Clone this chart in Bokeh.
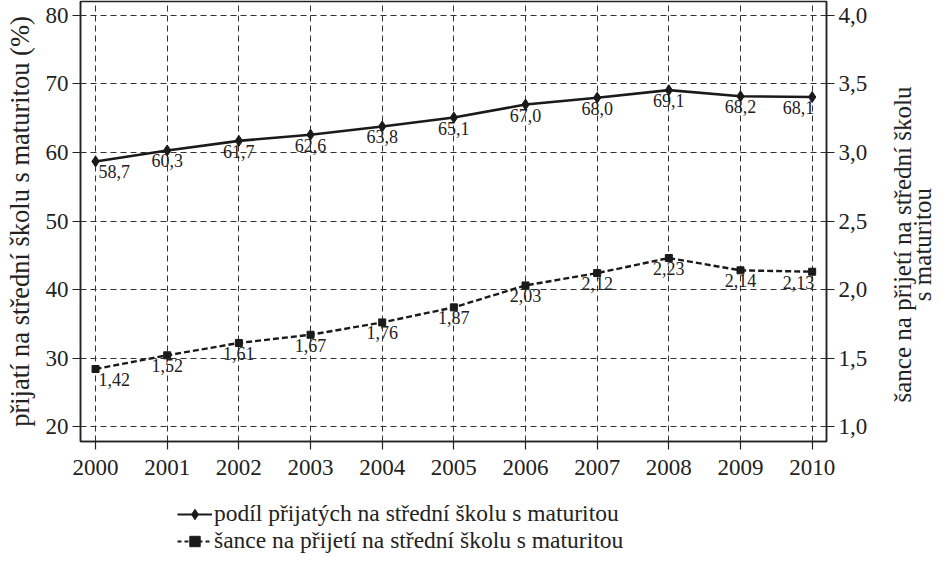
import math
from bokeh.plotting import figure
from bokeh.layouts import column, row
from bokeh.models import (ColumnDataSource, Range1d, LinearAxis, FixedTicker,
                          CustomJSTickFormatter, Legend, LegendItem, Label)
from bokeh.core.properties import value
from bokeh.embed import file_html
from bokeh.resources import INLINE

years = [2000, 2001, 2002, 2003, 2004, 2005, 2006, 2007, 2008, 2009, 2010]
share = [58.7, 60.3, 61.7, 62.6, 63.8, 65.1, 67.0, 68.0, 69.1, 68.2, 68.1]
chance = [1.42, 1.52, 1.61, 1.67, 1.76, 1.87, 2.03, 2.12, 2.23, 2.14, 2.13]
left_ticks = [20, 30, 40, 50, 60, 70, 80]
right_ticks = [1.0, 1.5, 2.0, 2.5, 3.0, 3.5, 4.0]

name1 = "podíl přijatých na střední školu s maturitou"
name2 = "šance na přijetí na střední školu s maturitou"
left_title = "přijatí na střední školu s maturitou (%)"
right_title1 = "šance na přijetí na střední školu"
right_title2 = "s maturitou"

FONT = "Liberation Serif"
INK = "#222222"

def fmt(v, d):
    return f"{v:.{d}f}".replace(".", ",")

n = len(years)
align = ["left"] + ["center"] * (n - 2) + ["right"]
xoff = [3] + [0] * (n - 2) + [2]

src1 = ColumnDataSource(dict(x=years, y=share, label=[fmt(v, 1) for v in share],
                             align=align, xoff=xoff))
src2 = ColumnDataSource(dict(x=years, y=chance, label=[fmt(v, 2) for v in chance],
                             align=align, xoff=xoff))

# ---------------- main chart ----------------
MW, MH = 876, 487
p = figure(width=MW, height=MH, output_backend="svg", toolbar_location=None,
           x_range=Range1d(1999.79, 2010.2), y_range=Range1d(17.82, 82.04),
           min_border_left=80, min_border_right=50, min_border_top=1,
           min_border_bottom=46)
p.extra_y_ranges = {"right": Range1d(0.891, 4.102)}
p.background_fill_color = "white"
p.border_fill_color = "white"
p.outline_line_color = INK
p.outline_line_width = 1.5

for g in (p.xgrid, p.ygrid):
    g.grid_line_color = "#333333"
    g.grid_line_dash = "6 4"
    g.grid_line_width = 1
p.xgrid.ticker = FixedTicker(ticks=years)
p.ygrid.ticker = FixedTicker(ticks=left_ticks)

def style_axis(ax):
    ax.axis_line_color = INK
    ax.axis_line_width = 1.5
    ax.major_tick_line_color = INK
    ax.major_tick_line_width = 1.2
    ax.major_tick_out = 8
    ax.major_tick_in = 0
    ax.minor_tick_line_color = None
    ax.major_label_text_font = FONT
    ax.major_label_text_font_size = "23px"
    ax.major_label_text_color = INK
    ax.axis_label_text_font = FONT
    ax.axis_label_text_font_size = "26.5px"
    ax.axis_label_text_font_style = "normal"
    ax.axis_label_text_color = INK

p.xaxis.ticker = FixedTicker(ticks=years)
style_axis(p.xaxis[0])
p.xaxis.major_label_standoff = 10

p.yaxis.ticker = FixedTicker(ticks=left_ticks)
style_axis(p.yaxis[0])
p.yaxis.axis_label = left_title
p.yaxis.axis_label_standoff = 8
p.yaxis.major_label_standoff = 4

rax = LinearAxis(y_range_name="right", ticker=FixedTicker(ticks=right_ticks),
                 formatter=CustomJSTickFormatter(code="return tick.toFixed(1).replace('.', ',');"))
style_axis(rax)
rax.major_label_standoff = 4
p.add_layout(rax, "right")

# series 1
p.line("x", "y", source=src1, line_color="#1a1a1a", line_width=2.6)
p.scatter("x", "y", source=src1, marker="diamond", size=11, fill_color="#1a1a1a",
          line_color="#1a1a1a")
p.text("x", "y", text="label", source=src1, text_align="align", x_offset="xoff",
       y_offset=4, text_baseline="top", text_font=value(FONT), text_font_size="18px",
       text_color=INK)

# series 2
p.line("x", "y", source=src2, y_range_name="right", line_color="#1a1a1a",
       line_width=2.4, line_dash="6 3")
p.scatter("x", "y", source=src2, y_range_name="right", marker="square", size=7,
          fill_color="#1a1a1a", line_color="#1a1a1a")
p.text("x", "y", text="label", source=src2, y_range_name="right", text_align="align",
       x_offset="xoff", y_offset=4, text_baseline="top", text_font=value(FONT),
       text_font_size="18px", text_color=INK)

# ---------------- right axis title (reads bottom to top) ----------------
TW, TH = 935 - MW, MH
t = figure(width=TW, height=TH, output_backend="svg", toolbar_location=None,
           x_range=Range1d(0, TW), y_range=Range1d(0, TH),
           x_axis_location=None, y_axis_location=None,
           min_border=0, outline_line_color=None)
t.grid.visible = False
t.border_fill_color = "white"
for txt, xx in ((right_title1, 26), (right_title2, 46)):
    t.add_layout(Label(x=xx, y=TH - 269, text=txt, angle=math.pi / 2,
                       text_align="center", text_baseline="middle",
                       text_font=FONT, text_font_size="25px", text_color=INK))

# ---------------- legend strip ----------------
LW, LH = 935, 554 - MH
lg = figure(width=LW, height=LH, output_backend="svg", toolbar_location=None,
            x_range=Range1d(0, LW), y_range=Range1d(0, LH),
            x_axis_location=None, y_axis_location=None,
            min_border=0, outline_line_color=None)
lg.grid.visible = False
# same data as the chart; the ranges keep these copies out of view, only their legend glyphs show
e1 = lg.line("x", "y", source=src1, line_color="#1a1a1a", line_width=2.2)
e1m = lg.scatter("x", "y", source=src1, marker="diamond", size=10, fill_color="#1a1a1a",
                 line_color="#1a1a1a")
e2 = lg.line("x", "y", source=src2, line_color="#1a1a1a", line_width=2.2, line_dash="4 3")
e2m = lg.scatter("x", "y", source=src2, marker="square", size=7, fill_color="#1a1a1a",
                 line_color="#1a1a1a")
legend = Legend(items=[LegendItem(label=name1, renderers=[e1, e1m]),
                       LegendItem(label=name2, renderers=[e2, e2m])],
                location=(177, 0), orientation="vertical",
                border_line_color=None, background_fill_alpha=0,
                padding=0, margin=0, spacing=0,
                glyph_width=35, glyph_height=26, label_standoff=2,
                label_text_font=FONT, label_text_font_size="23.5px",
                label_text_color=INK, label_height=26)
lg.add_layout(legend, "center")

layout = column(row(p, t), lg)
open("out.html", "w").write(file_html(layout, INLINE))
